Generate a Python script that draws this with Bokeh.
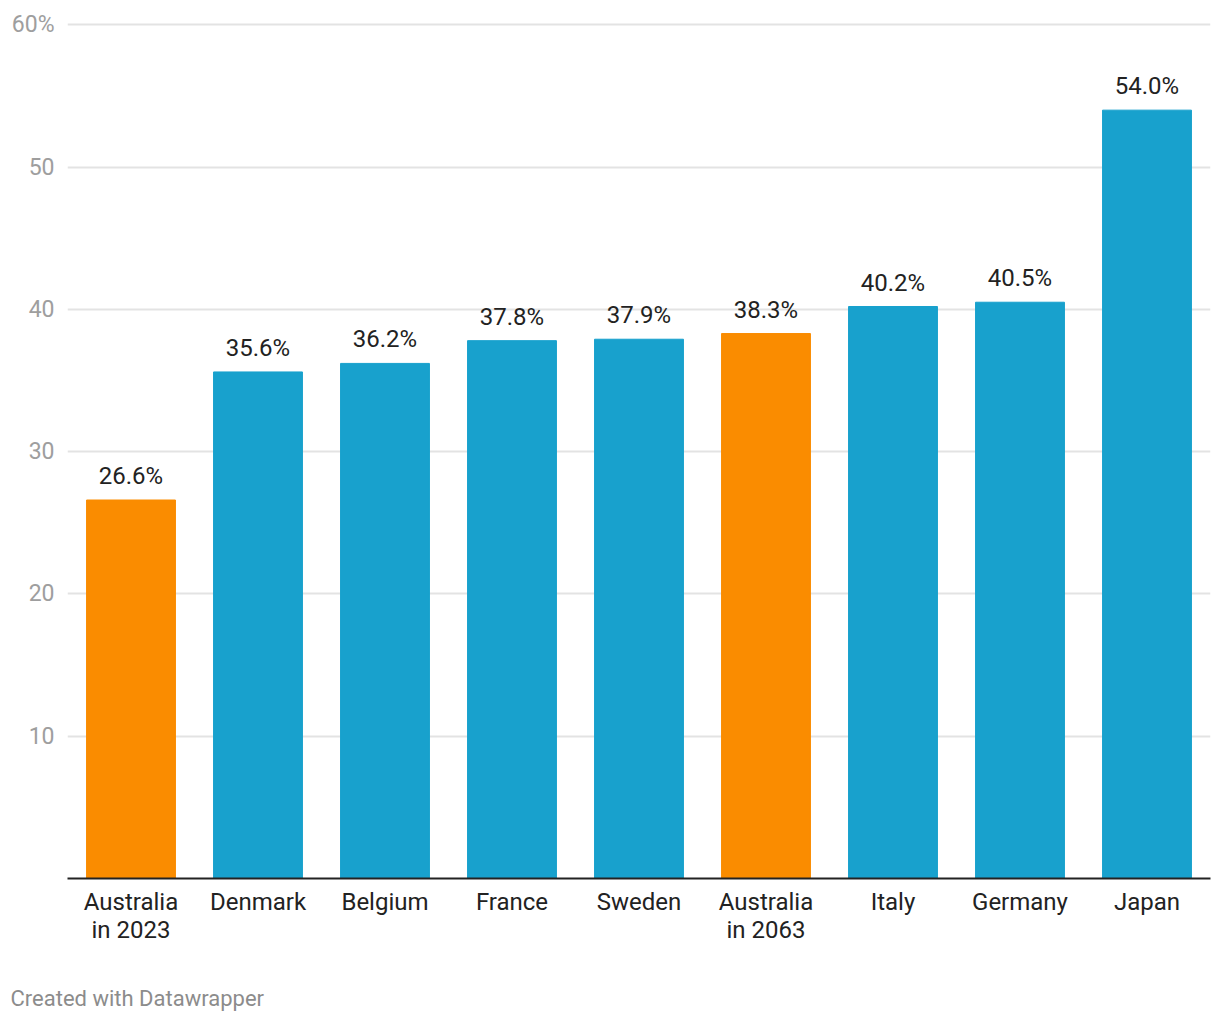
from bokeh.plotting import figure
from bokeh.models import ColumnDataSource, FixedTicker, Title, Range1d, FactorRange
from bokeh.embed import file_html
from bokeh.resources import INLINE

categories = ["Australia\nin 2023", "Denmark", "Belgium", "France", "Sweden",
              "Australia\nin 2063", "Italy", "Germany", "Japan"]
values = [26.6, 35.6, 36.2, 37.8, 37.9, 38.3, 40.2, 40.5, 54.0]
highlight = [True, False, False, False, False, True, False, False, False]
y_ticks = [10, 20, 30, 40, 50, 60]

BLUE = "#18a1cd"
ORANGE = "#fa8c00"
FONT = "Roboto"

colors = [ORANGE if h else BLUE for h in highlight]
labels = ["%.1f%%" % v for v in values]
src = ColumnDataSource(dict(cat=categories, val=values, color=colors, lab=labels))

p = figure(x_range=FactorRange(*categories, range_padding=0), y_range=Range1d(0, 60.3),
           width=1212, height=1012, output_backend="svg", toolbar_location=None,
           min_border_left=67, min_border_right=2, min_border_top=20, min_border_bottom=134)
p.outline_line_color = None
p.background_fill_color = "white"
p.border_fill_color = "white"

p.vbar(x="cat", top="val", width=0.7, bottom=0, color="color", source=src)
p.text(x="cat", y="val", text="lab", source=src, text_align="center", text_baseline="middle",
       y_offset=-24, text_font={"value": FONT}, text_font_size="24px", text_color="#222222")

# y axis
p.yaxis.ticker = FixedTicker(ticks=y_ticks)
p.yaxis.major_label_overrides = {60: "60%"}
p.yaxis.axis_line_color = None
p.yaxis.major_tick_line_color = None
p.yaxis.minor_tick_line_color = None
p.yaxis.major_label_standoff = 7
p.yaxis.major_label_text_font = FONT
p.yaxis.major_label_text_font_size = "23px"
p.yaxis.major_label_text_color = "#9e9e9e"
p.ygrid.grid_line_color = "#e3e3e3"
p.ygrid.grid_line_width = 2
p.xgrid.grid_line_color = None

# x axis
p.xaxis.axis_line_color = "#222222"
p.xaxis.axis_line_width = 2
p.xaxis.major_tick_line_color = None
p.xaxis.minor_tick_line_color = None
p.xaxis.major_label_standoff = 3
p.xaxis.major_label_text_font = FONT
p.xaxis.major_label_text_font_size = "24px"
p.xaxis.major_label_text_color = "#222222"
p.xaxis.major_label_text_line_height = 1.0

# invisible spacer between axis labels and the footer
spacer = Title(text=" ", text_font_size="10px", standoff=23)
p.add_layout(spacer, "below")

footer = Title(text="Created with Datawrapper", align="left", offset=-57, standoff=2,
               text_font=FONT, text_font_size="22px", text_color="#8c8c8c",
               text_font_style="normal")
p.add_layout(footer, "below")

open("out.html", "w").write(file_html(p, INLINE))
